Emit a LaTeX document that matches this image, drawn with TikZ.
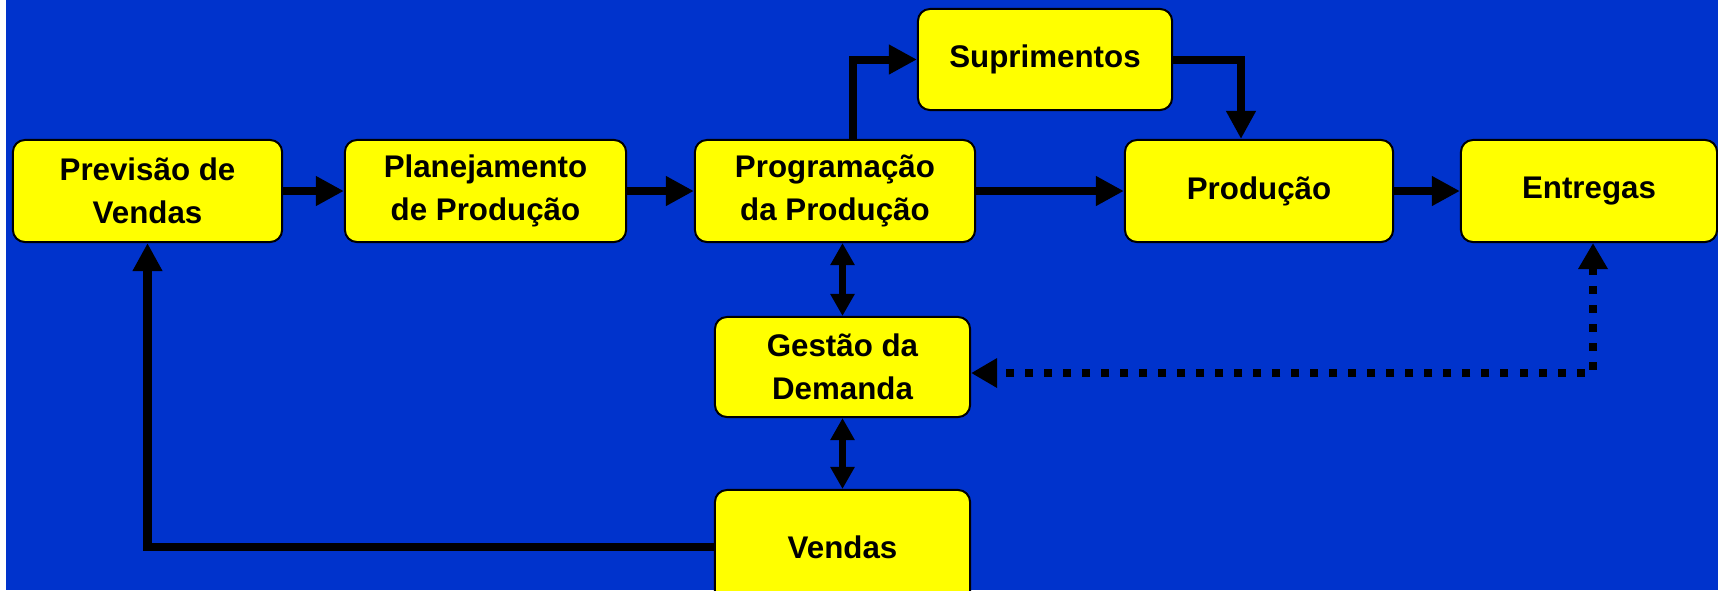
\documentclass[tikz,border=0pt]{standalone}
\usepackage{fontspec}
\setmainfont{Liberation Sans}
\usepackage{tikz}
\usetikzlibrary{arrows.meta}
\definecolor{fundo}{rgb}{0.0,0.2,0.8}
\definecolor{caixa}{rgb}{1.0,1.0,0.0}

\begin{document}
\begin{tikzpicture}[line cap=butt,line join=miter,x=0.01cm,y=-0.01cm,
	bloco/.style={draw=black,line width=0.02cm,fill=caixa,rounded corners=0.12cm,
		align=center,inner sep=0pt,minimum height=1.02cm,
		font=\bfseries\fontsize{8.9}{12.3}\selectfont},
	seta/.style={line width=0.08cm,-{Triangle[length=0.28cm,width=0.28cm]}},
	dupla/.style={line width=0.07cm,{Triangle[length=0.22cm,width=0.23cm]}-{Triangle[length=0.22cm,width=0.23cm]}},
	pontilhada/.style={line width=0.08cm,dash pattern=on 0.08cm off 0.11cm,
		{Triangle[length=0.26cm,width=0.28cm]}-{Triangle[length=0.26cm,width=0.28cm]}}]

	\useasboundingbox (0,0) rectangle (1718,590);
	\clip (0,0) rectangle (1718,590);
	\fill[white] (0,0) rectangle (1718,590);
	\fill[fundo] (6,0) rectangle (1718,590);

	%\draw [xstep=1.0cm,ystep=1.0cm] (0,0) grid (1718,590);
	\node[bloco,minimum width=2.69cm] (prev) at (147.5,191) {Previsão de\\Vendas};
	\node[bloco,minimum width=2.81cm] (plan) at (485.5,191) {Planejamento\\de Produção};
	\node[bloco,minimum width=2.80cm] (prog) at (835,191) {Programação\\da Produção};
	\node[bloco,minimum width=2.54cm,minimum height=1.01cm] (supr) at (1045,59.5) {Suprimentos};
	\node[bloco,minimum width=2.68cm] (prod) at (1259,191) {Produção};
	\node[bloco,minimum width=2.56cm] (entr) at (1589,191) {Entregas};

	\node[bloco,minimum width=2.55cm,minimum height=1.00cm] (gest) at (842.5,367) {Gestão da\\Demanda};
	\node[bloco,minimum width=2.55cm,minimum height=1.14cm] (vend) at (842.5,547) {Vendas};

	\draw[seta] (prev) -- (plan);
	\draw[seta] (plan) -- (prog);
	\draw[seta] (prog) -- (prod);
	\draw[seta] (prod) -- (entr);

	\draw[seta] ([xshift=0.18cm]prog.north) |- (supr.west);
	\draw[seta] (supr.east) -| ([xshift=-0.18cm]prod.north);

	\draw[dupla] (prog.south -| gest.north) -- (gest.north);
	\draw[dupla] (gest.south) -- (vend.north);
	\draw[seta] (vend.west) -| (prev.south);

	\draw[pontilhada] ([xshift=0.04cm]entr.south) |- ([yshift=-0.06cm]gest.east);
\end{tikzpicture}
\end{document}
